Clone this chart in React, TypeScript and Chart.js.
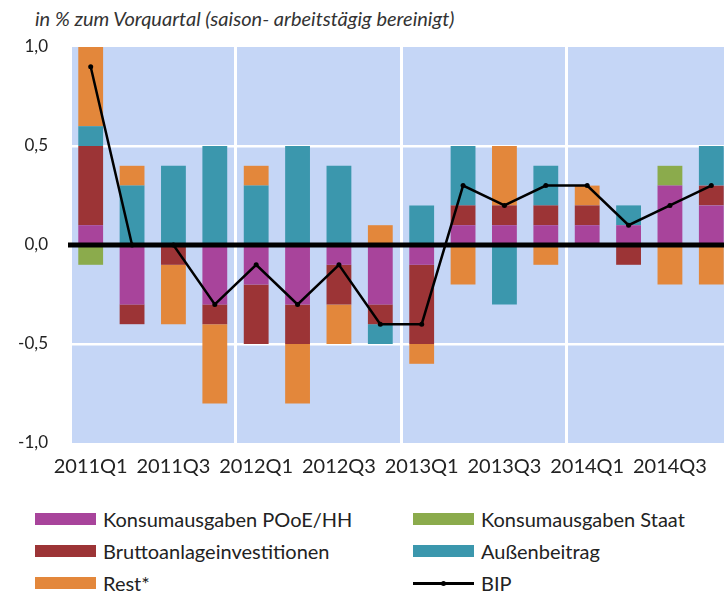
import React, { useEffect, useRef } from "react";
import { Chart, registerables } from "chart.js";

Chart.register(...registerables);

const labels = [
  "2011Q1", "2011Q2", "2011Q3", "2011Q4",
  "2012Q1", "2012Q2", "2012Q3", "2012Q4",
  "2013Q1", "2013Q2", "2013Q3", "2013Q4",
  "2014Q1", "2014Q2", "2014Q3", "2014Q4",
];
const konsumHH = [0.1, -0.3, 0, -0.3, -0.2, -0.3, -0.1, -0.3, -0.1, 0.1, 0.1, 0.1, 0.1, 0.1, 0.3, 0.2];
const konsumStaat = [-0.1, 0, 0, 0, 0, 0, 0, 0, 0, 0, 0, 0, 0, 0, 0.1, 0];
const brutto = [0.4, -0.1, -0.1, -0.1, -0.3, -0.2, -0.2, -0.1, -0.4, 0.1, 0.1, 0.1, 0.1, -0.1, 0, 0.1];
const aussen = [0.1, 0.3, 0.4, 0.5, 0.3, 0.5, 0.4, -0.1, 0.2, 0.3, -0.3, 0.2, 0, 0.1, 0, 0.2];
const rest = [0.4, 0.1, -0.3, -0.4, 0.1, -0.3, -0.2, 0.1, -0.1, -0.2, 0.3, -0.1, 0.1, 0, -0.2, -0.2];
const bip = [0.9, 0, 0, -0.3, -0.1, -0.3, -0.1, -0.4, -0.4, 0.3, 0.2, 0.3, 0.3, 0.1, 0.2, 0.3];

const C_HH = "#a8449b";
const C_STAAT = "#8bab4c";
const C_BRUTTO = "#9c3436";
const C_AUSSEN = "#3b97ad";
const C_REST = "#e3873b";
const PLOT_BG = "#c5d6f6";
const FONT = "Lato, 'Open Sans', sans-serif";

const plotBg = {
  id: "plotBg",
  beforeDraw(chart: any) {
    const { ctx, chartArea: a } = chart;
    ctx.save();
    ctx.fillStyle = PLOT_BG;
    ctx.fillRect(a.left, a.top, a.right - a.left, a.bottom - a.top);
    ctx.restore();
  },
};

const zeroLine = {
  id: "zeroLine",
  beforeDatasetDraw(chart: any, args: any) {
    if (args.meta.type !== "line") return;
    const { ctx, chartArea: a } = chart;
    const y = chart.scales.y.getPixelForValue(0);
    ctx.save();
    ctx.strokeStyle = "#000";
    ctx.lineWidth = 5;
    ctx.beginPath();
    ctx.moveTo(a.left - 2, y);
    ctx.lineTo(a.right, y);
    ctx.stroke();
    ctx.restore();
  },
};

function LegendItem({ color, text, line }: { color?: string; text: string; line?: boolean }) {
  return (
    <div style={{ display: "flex", alignItems: "center", height: 32 }}>
      {line ? (
        <div style={{ position: "relative", width: 61, height: 12, marginRight: 7 }}>
          <div style={{ position: "absolute", left: 0, right: 0, top: 5, height: 3, background: "#000" }} />
          <div style={{ position: "absolute", left: 28, top: 4, width: 5, height: 5, borderRadius: 3, background: "#000" }} />
        </div>
      ) : (
        <div style={{ width: 61, height: 12, background: color, marginRight: 7 }} />
      )}
      <span style={{ fontFamily: FONT, fontSize: 20, color: "#222", whiteSpace: "nowrap" }}>{text}</span>
    </div>
  );
}

export default function App() {
  const ref = useRef<HTMLCanvasElement | null>(null);

  useEffect(() => {
    if (!ref.current) return;
    const mkBar = (label: string, data: number[], color: string) => ({
      type: "bar" as const,
      label,
      data,
      backgroundColor: color,
      borderWidth: 0,
      stack: "s",
      order: 1,
      categoryPercentage: 1,
      barPercentage: 0.6,
    });
    const chart = new Chart(ref.current, {
      type: "bar",
      data: {
        labels,
        datasets: [
          mkBar("Konsumausgaben POoE/HH", konsumHH, C_HH),
          mkBar("Konsumausgaben Staat", konsumStaat, C_STAAT),
          mkBar("Bruttoanlageinvestitionen", brutto, C_BRUTTO),
          mkBar("Außenbeitrag", aussen, C_AUSSEN),
          mkBar("Rest*", rest, C_REST),
          {
            type: "line" as const,
            label: "BIP",
            data: bip,
            borderColor: "#000",
            backgroundColor: "#000",
            borderWidth: 2.5,
            pointRadius: 2.5,
            pointBackgroundColor: "#000",
            pointBorderWidth: 0,
            tension: 0,
            order: 0,
          } as any,
        ],
      },
      options: {
        responsive: false,
        animation: false,
        devicePixelRatio: 1,
        layout: { padding: { left: 0, top: 47, right: 8, bottom: 7 } },
        plugins: { legend: { display: false }, tooltip: { enabled: false }, title: { display: false } },
        scales: {
          x: {
            stacked: true,
            offset: true,
            grid: {
              offset: true,
              drawTicks: false,
              lineWidth: 3,
              color: (c: any) => (c.index % 4 === 0 ? "#ffffff" : "rgba(0,0,0,0)"),
            },
            border: { display: false },
            ticks: {
              autoSkip: false,
              maxRotation: 0,
              padding: 12,
              color: "#222",
              font: { family: FONT, size: 20 },
              callback: (_v: any, i: number) => (i % 2 === 0 ? labels[i] : ""),
            },
            afterFit: (s: any) => {
              s.height = 40;
            },
          },
          y: {
            stacked: true,
            min: -1,
            max: 1,
            ticks: {
              stepSize: 0.5,
              padding: 22,
              color: "#222",
              font: { family: FONT, size: 17 },
              callback: (v: any) => Number(v).toFixed(1).replace(".", ","),
            },
            grid: {
              drawTicks: false,
              lineWidth: 2.5,
              color: (c: any) =>
                c.tick && Math.abs(Math.abs(c.tick.value) - 0.5) < 1e-6 ? "#ffffff" : "rgba(0,0,0,0)",
            },
            border: { display: false },
            afterFit: (s: any) => {
              s.width = 70;
            },
          },
        },
      } as any,
      plugins: [plotBg, zeroLine],
    });
    return () => chart.destroy();
  }, []);

  return (
    <div style={{ position: "absolute", left: 0, top: 0, width: 724, height: 599, overflow: "hidden", background: "#fff" }}>
      <div
        style={{
          position: "absolute",
          left: 35,
          top: 5,
          lineHeight: "26px",
          fontFamily: FONT,
          fontStyle: "italic",
          fontSize: 20,
          color: "#333",
          whiteSpace: "nowrap",
        }}
      >
        in % zum Vorquartal (saison- arbeitstägig bereinigt)
      </div>
      <canvas ref={ref} width={740} height={490} style={{ position: "absolute", left: 0, top: 0, width: 740, height: 490 }} />
      <div style={{ position: "absolute", left: 35, top: 503 }}>
        <LegendItem color={C_HH} text="Konsumausgaben POoE/HH" />
        <LegendItem color={C_BRUTTO} text="Bruttoanlageinvestitionen" />
        <LegendItem color={C_REST} text="Rest*" />
      </div>
      <div style={{ position: "absolute", left: 413, top: 503 }}>
        <LegendItem color={C_STAAT} text="Konsumausgaben Staat" />
        <LegendItem color={C_AUSSEN} text="Außenbeitrag" />
        <LegendItem line text="BIP" />
      </div>
    </div>
  );
}
